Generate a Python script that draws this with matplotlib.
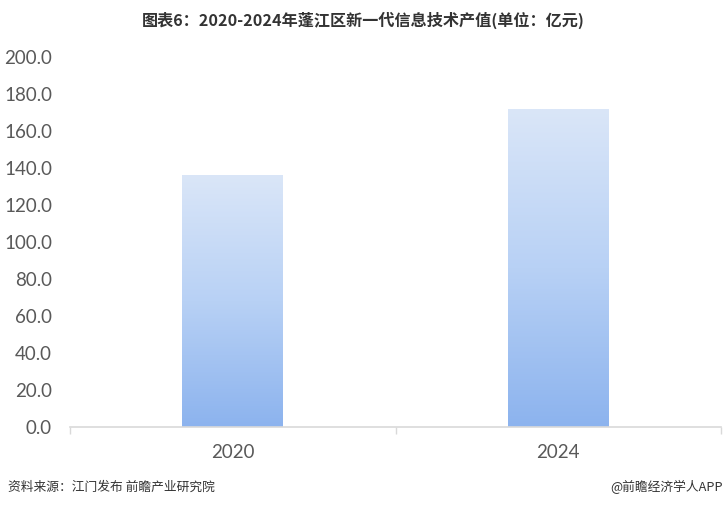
import numpy as np
import matplotlib
matplotlib.use("Agg")
import matplotlib.pyplot as plt
from matplotlib.colors import LinearSegmentedColormap

plt.rcParams['font.family'] = ['Noto Sans CJK SC', 'DejaVu Sans']

years = ["2020", "2024"]
values = [135.7, 171.4]
y_ticks = [0, 20, 40, 60, 80, 100, 120, 140, 160, 180, 200]

fig = plt.figure(figsize=(7.26, 5.07), dpi=100)
ax = fig.add_axes([70 / 726, 80 / 507, 651 / 726, 370 / 507])

cmap = LinearSegmentedColormap.from_list("bar", ["#8cb3ee", "#b8d1f5", "#dae6f8"])
grad = np.linspace(0, 1, 256).reshape(-1, 1)
bar_w = 0.31
for i, v in enumerate(values):
    ax.imshow(grad, cmap=cmap, origin="lower", aspect="auto",
              extent=[i - bar_w / 2, i + bar_w / 2, 0, v], zorder=2)

ax.set_xlim(-0.5, 1.5)
ax.set_ylim(0, 200)
ax.set_xticks(range(len(years)))
ax.set_xticklabels(years, fontsize=13.5, color="#595959", family="Lato")
ax.set_xticks([-0.5, 0.5, 1.5], minor=True)
ax.tick_params(axis="x", which="major", length=0, pad=12)
ax.tick_params(axis="x", which="minor", length=5, color="#d9d9d9", width=1)
ax.set_yticks(y_ticks)
ax.set_yticklabels([f"{t:.1f}" for t in y_ticks], fontsize=13.5, color="#595959", family="Lato")
ax.tick_params(axis="y", length=0, pad=13)
for s in ["top", "right", "left"]:
    ax.spines[s].set_visible(False)
ax.spines["bottom"].set_color("#d9d9d9")
ax.spines["bottom"].set_linewidth(1.2)

fig.text(0.5, 1 - 20 / 507, "图表6：2020-2024年蓬江区新一代信息技术产值(单位：亿元)",
         ha="center", va="center", fontsize=11.6, fontweight="bold", color="#333333")
fig.text(8 / 726, 1 - 487 / 507, "资料来源：江门发布 前瞻产业研究院",
         ha="left", va="center", fontsize=9.2, color="#333333")
fig.text(723 / 726, 1 - 487 / 507, "@前瞻经济学人APP",
         ha="right", va="center", fontsize=9.2, color="#333333")

fig.savefig("out.png", dpi=100)
